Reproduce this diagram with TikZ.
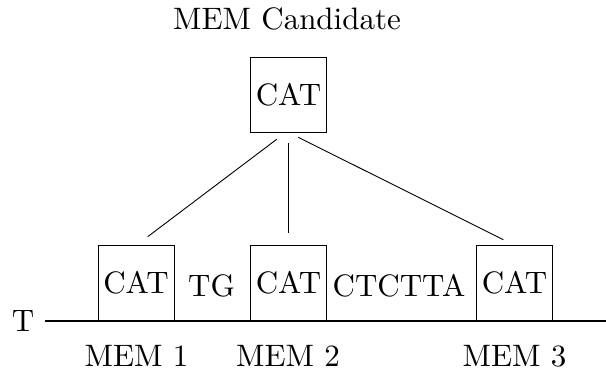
\documentclass[tikz,border=0pt]{standalone}
\usepackage{fontspec}
\setmainfont{lmroman10-regular.otf}
\begin{document}
\begin{tikzpicture}[x=1pt,y=-1pt,
  txt/.style={font=\fontsize{31}{37}\selectfont, inner sep=0pt, anchor=base},
  catbox/.style={draw, line width=1pt, minimum width=76pt, minimum height=75pt, inner sep=0pt, font=\fontsize{31}{37}\selectfont},
  link/.style={line width=0.9pt},
  strand/.style={line width=2.8pt}]
\useasboundingbox (0,0) rectangle (606,376);
\node[txt] (cand) at (287,29.5) {MEM Candidate};
\node[catbox] (top) at (288.5,94.5) {CAT};
\node[catbox] (b1) at (136,282.5) {CAT};
\node[catbox] (b2) at (288.5,282.5) {CAT};
\node[catbox] (b3) at (514.5,282.5) {CAT};
\node[txt] (tg) at (211.5,296) {TG};
\node[txt] (ct) at (399,296) {CTCTTA};
\node[txt] (tlab) at (23,331) {T};
\node[txt] (m1) at (136.5,366) {MEM 1};
\node[txt] (m2) at (288,366) {MEM 2};
\node[txt] (m3) at (514.5,366) {MEM 3};
\coordinate (ls) at (276.7,139.3);
\coordinate (le) at (147.7,236.7);
\coordinate (cs) at (288.3,143);
\coordinate (ce) at (288.3,233);
\coordinate (rs) at (298.3,137.3);
\coordinate (re) at (503.3,239.7);
\coordinate (tstart) at (45,321);
\coordinate (tend) at (606,321);
\draw[link] (ls) -- (le);
\draw[link] (cs) -- (ce);
\draw[link] (rs) -- (re);
\draw[strand] (tstart) -- (tend);
\end{tikzpicture}
\end{document}
